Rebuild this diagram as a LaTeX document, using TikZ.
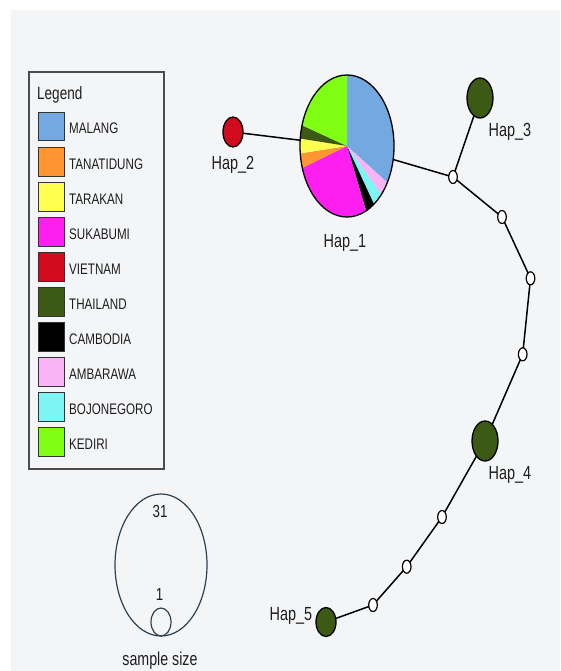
\documentclass[tikz,border=0pt]{standalone}
\usepackage{fontspec}
\setmainfont{Liberation Sans}[FakeStretch=0.76]
\usetikzlibrary{shapes.geometric}
\definecolor{bg}{RGB}{244,245,247}
\definecolor{cMalang}{RGB}{115,168,225}
\definecolor{cTanatidung}{RGB}{255,150,50}
\definecolor{cTarakan}{RGB}{255,255,80}
\definecolor{cSukabumi}{RGB}{255,30,240}
\definecolor{cVietnam}{RGB}{210,10,30}
\definecolor{cThailand}{RGB}{60,90,20}
\definecolor{cCambodia}{RGB}{0,0,0}
\definecolor{cAmbarawa}{RGB}{250,180,245}
\definecolor{cBojonegoro}{RGB}{125,245,245}
\definecolor{cKediri}{RGB}{128,255,20}
\definecolor{txt}{RGB}{30,30,30}
\definecolor{sizeline}{RGB}{45,65,80}
\begin{document}
\begin{tikzpicture}[x=1pt,y=-1pt,
  hapnode/.style={ellipse, draw=black, line width=1.3pt, inner sep=0pt, outer sep=0pt},
  mv/.style={ellipse, draw=black, fill=white, line width=1.2pt, minimum width=8.6pt, minimum height=13pt, inner sep=0pt, outer sep=0pt},
  link/.style={line width=1.5pt, black},
  hlbl/.style={font=\fontsize{19}{21}\selectfont, text=txt, inner sep=0pt, anchor=base},
  leglbl/.style={font=\fontsize{15.3}{17}\selectfont, text=txt, inner sep=0pt, anchor=base west},
  swatch/.style={draw=black!80, line width=1pt},
  sizering/.style={ellipse, draw=sizeline, line width=1.2pt, inner sep=0pt, outer sep=0pt}
]
\useasboundingbox (0,0) rectangle (560,671);
\fill[bg] (11,10) rectangle (560,671);

% Legend
\draw[black!70, line width=1.3pt] (29,72) rectangle (164,469);
\node[leglbl, font=\fontsize{17.8}{19}\selectfont] (legtitle) at (37,99.3) {Legend};
\foreach \col/\name [count=\i from 0] in {cMalang/MALANG, cTanatidung/TANATIDUNG, cTarakan/TARAKAN, cSukabumi/SUKABUMI, cVietnam/VIETNAM, cThailand/THAILAND, cCambodia/CAMBODIA, cAmbarawa/AMBARAWA, cBojonegoro/BOJONEGORO, cKediri/KEDIRI}{
  \pgfmathsetmacro{\yc}{126.7+35*\i}
  \filldraw[swatch, fill=\col] (38,\yc-14.3) rectangle (64,\yc+14.3);
  \node[leglbl] (leg\i) at (69,\yc+7.3) {\name};
}

% Hap_1 pie
\node[ellipse, minimum width=94pt, minimum height=142pt, inner sep=0pt, outer sep=0pt] (hap1) at (347,146) {};
\begin{scope}[shift={(hap1.center)}]
  \foreach \a/\b/\col in {90/-31/cMalang, -31/-43/cAmbarawa, -43/-55/cBojonegoro, -55/-66/cCambodia, -66/-162/cSukabumi, -162/-174/cTanatidung, -174/-186/cTarakan, -186/-197/cThailand, -197/-270/cKediri}{
    \fill[\col] (0,0) -- ({47*cos(\a)},{-71*sin(\a)}) arc[start angle=\a, end angle=\b, x radius=47pt, y radius=71pt] -- cycle;
  }
\end{scope}
\draw[black, line width=1.3pt] (hap1.center) ellipse [x radius=47pt, y radius=71pt];

% other haplotypes
\node[hapnode, fill=cVietnam, minimum width=20pt, minimum height=30pt] (hap2) at (233,132) {};
\node[hapnode, fill=cThailand, minimum width=26pt, minimum height=40pt] (hap3) at (480,98) {};
\node[hapnode, fill=cThailand, minimum width=26pt, minimum height=40pt] (hap4) at (485,441) {};
\node[hapnode, fill=cThailand, minimum width=20pt, minimum height=29pt] (hap5) at (326,622) {};

% median vectors
\node[mv] (m1) at (453,177) {};
\node[mv] (m2) at (502,217) {};
\node[mv] (m3) at (530.5,278.3) {};
\node[mv] (m4) at (522.7,354.3) {};
\node[mv] (m5) at (442,517) {};
\node[mv] (m6) at (406.7,566.7) {};
\node[mv] (m7) at (373,605) {};

% connectors
\draw[link] (hap2) -- (hap1);
\draw[link] (hap1) -- (m1);
\draw[link] (m1) -- (hap3);
\draw[link] (m1) -- (m2);
\draw[link] (m2) -- (m3);
\draw[link] (m3) -- (m4);
\draw[link] (m4) -- (hap4);
\draw[link] (hap4) -- (m5);
\draw[link] (m5) -- (m6);
\draw[link] (m6) -- (m7);
\draw[link] (m7) -- (hap5);

% labels
\node[hlbl] (l1) at (345,247) {Hap\_1};
\node[hlbl] (l2) at (233,169) {Hap\_2};
\node[hlbl] (l3) at (510,137) {Hap\_3};
\node[hlbl] (l4) at (510,479) {Hap\_4};
\node[hlbl] (l5) at (291,620) {Hap\_5};

% sample size
\node[sizering, minimum width=92pt, minimum height=142pt] (bigring) at (161,565) {};
\node[sizering, minimum width=20pt, minimum height=28pt] (smallring) at (161,622) {};
\node[hlbl, font=\fontsize{17.5}{19}\selectfont] (n31) at (160,517) {31};
\node[hlbl, font=\fontsize{17.5}{19}\selectfont] (n1) at (159.5,600.5) {1};
\node[hlbl, font=\fontsize{18.7}{20}\selectfont] (ss) at (160,665) {sample size};
\end{tikzpicture}
\end{document}
